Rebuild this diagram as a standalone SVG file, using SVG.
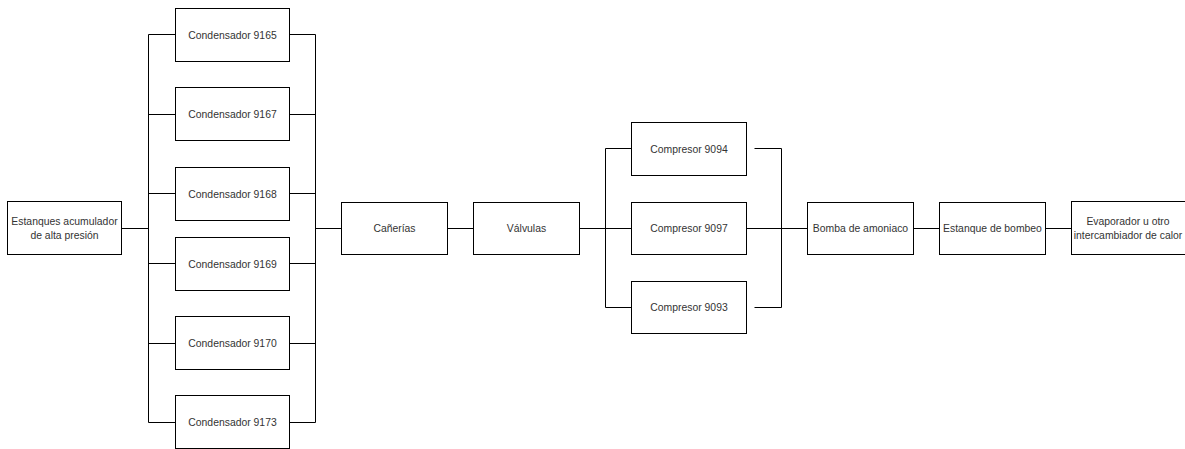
<svg xmlns="http://www.w3.org/2000/svg" width="1185" height="449" viewBox="0 0 1185 449">
<style>
.box{fill:#fff;stroke:#000;stroke-width:1}
.lbl{font-family:"Liberation Sans",Arial,sans-serif;font-size:10.4px;fill:#333;text-anchor:middle;dominant-baseline:central}
.ln{fill:none;stroke:#000;stroke-width:1}
</style>
<rect width="1185" height="449" fill="#fff"/>
<g id="connectors">
<path class="ln" d="M121.5 228.5H148.5M148.5 34.5V422.5M148.5 34.5H175.5M148.5 114.5H175.5M148.5 193.5H175.5M148.5 263.5H175.5M148.5 343.5H175.5M148.5 422.5H175.5"/>
<path class="ln" d="M289.5 34.5H315.5M289.5 114.5H315.5M289.5 193.5H315.5M289.5 263.5H315.5M289.5 343.5H315.5M289.5 422.5H315.5M315.5 34.5V422.5M315.5 228.5H341.5"/>
<path class="ln" d="M447.5 228.5H473.5M579.5 228.5H631.5M605.5 148.5V307.5M605.5 148.5H631.5M605.5 307.5H631.5"/>
<path class="ln" d="M754.5 148.5H781.5M754.5 307.5H781.5M781.5 148.5V307.5M746.5 228.5H807.5"/>
<path class="ln" d="M913.5 228.5H939.5M1045.5 228.5H1071.5"/>
</g>
<g id="estanques"><rect class="box" x="7.5" y="201.5" width="114" height="53"/><text class="lbl" x="64.5" y="221.5">Estanques acumulador</text><text class="lbl" x="64.5" y="235.5">de alta presión</text></g>
<g id="c9165"><rect class="box" x="175.5" y="8.5" width="114" height="53"/><text class="lbl" x="232.5" y="35">Condensador 9165</text></g>
<g id="c9167"><rect class="box" x="175.5" y="87.5" width="114" height="53"/><text class="lbl" x="232.5" y="114">Condensador 9167</text></g>
<g id="c9168"><rect class="box" x="175.5" y="167.5" width="114" height="53"/><text class="lbl" x="232.5" y="194">Condensador 9168</text></g>
<g id="c9169"><rect class="box" x="175.5" y="237.5" width="114" height="53"/><text class="lbl" x="232.5" y="264">Condensador 9169</text></g>
<g id="c9170"><rect class="box" x="175.5" y="316.5" width="114" height="53"/><text class="lbl" x="232.5" y="343">Condensador 9170</text></g>
<g id="c9173"><rect class="box" x="175.5" y="395.5" width="114" height="53"/><text class="lbl" x="232.5" y="422">Condensador 9173</text></g>
<g id="canerias"><rect class="box" x="341.5" y="202.5" width="106" height="52"/><text class="lbl" x="394.5" y="228.5">Cañerías</text></g>
<g id="valvulas"><rect class="box" x="473.5" y="202.5" width="106" height="52"/><text class="lbl" x="526.5" y="228.5">Válvulas</text></g>
<g id="p9094"><rect class="box" x="631.5" y="122.5" width="115" height="53"/><text class="lbl" x="689" y="149">Compresor 9094</text></g>
<g id="p9097"><rect class="box" x="631.5" y="202.5" width="115" height="52"/><text class="lbl" x="689" y="228.5">Compresor 9097</text></g>
<g id="p9093"><rect class="box" x="631.5" y="281.5" width="115" height="52"/><text class="lbl" x="689" y="307.5">Compresor 9093</text></g>
<g id="bomba"><rect class="box" x="807.5" y="202.5" width="106" height="52"/><text class="lbl" x="860.5" y="228.5">Bomba de amoniaco</text></g>
<g id="estanque-bombeo"><rect class="box" x="939.5" y="202.5" width="106" height="52"/><text class="lbl" x="992.5" y="228.5">Estanque de bombeo</text></g>
<g id="evaporador"><rect class="box" x="1071.5" y="201.5" width="114" height="53"/><text class="lbl" x="1128" y="221.5">Evaporador u otro</text><text class="lbl" x="1128" y="235.5">intercambiador de calor</text></g>
</svg>
